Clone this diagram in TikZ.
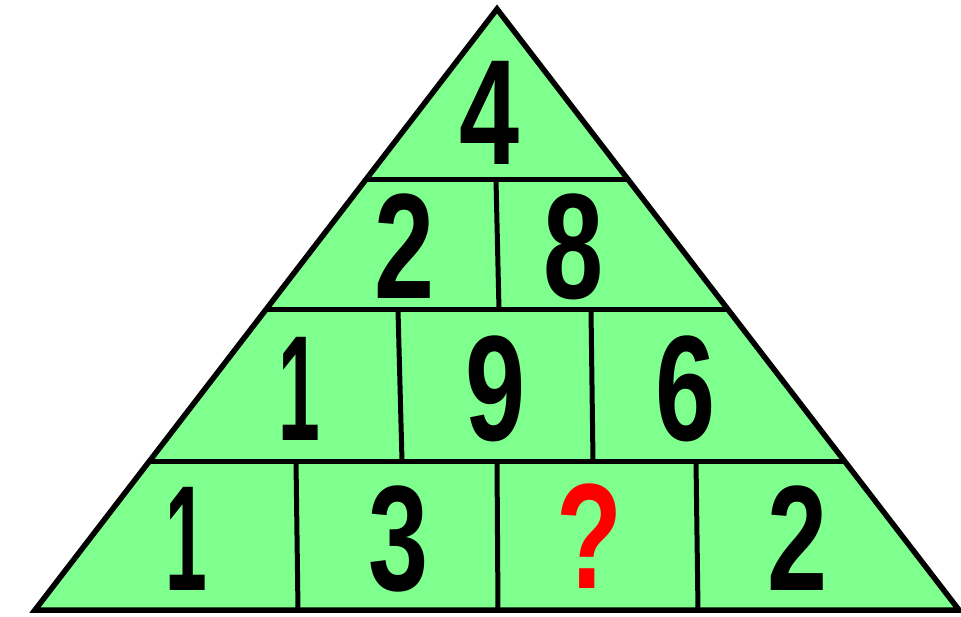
\documentclass[tikz,border=0pt]{standalone}
\usepackage{fontspec}
\setmainfont{Liberation Sans}
\definecolor{pgreen}{RGB}{127,255,142}
\definecolor{qred}{RGB}{255,0,0}
\begin{document}
\begin{tikzpicture}[x=1pt,y=-1pt,
  gridline/.style={line width=5pt,black},
  digit/.style={anchor=base,inner sep=0pt,font=\fontsize{150}{150}\selectfont\bfseries},
]
\useasboundingbox (0,0) rectangle (961,617);
\coordinate (A) at (497,9);
\coordinate (L) at (35,610);
\coordinate (R) at (959,610);
\fill[pgreen] (A) -- (L) -- (R) -- cycle;
% horizontal lines
\draw[gridline] (366,180) -- (628,180);
\draw[gridline] (266,310) -- (728,310);
\draw[gridline] (151,461) -- (843,461);
% vertical dividers
\draw[gridline] (496,180) -- (499,310);
\draw[gridline] (398,310) -- (402,461);
\draw[gridline] (591,310) -- (593,461);
\draw[gridline] (296,461) -- (298,610);
\draw[gridline] (497,461) -- (498,610);
\draw[gridline] (696,461) -- (698,610);
\draw[line width=5.5pt,line join=miter] (A) -- (L) -- (R) -- cycle;
% numbers
\node[digit] (n4) at (490,165) {\scalebox{0.72}[1]{4}};
\node[digit] (n2a) at (405,299) {\scalebox{0.72}[1]{2}};
\node[digit] (n8) at (574,299) {\scalebox{0.72}[1]{8}};
\node[digit] (n1a) at (299,440) {\scalebox{0.5}[1]{1}};
\node[digit] (n9) at (496,440) {\scalebox{0.72}[1]{9}};
\node[digit] (n6) at (686,440) {\scalebox{0.72}[1]{6}};
\node[digit] (n1b) at (186,590) {\scalebox{0.5}[1]{1}};
\node[digit] (n3) at (399,590) {\scalebox{0.72}[1]{3}};
\node[digit,text=qred] (nq) at (589,588) {\scalebox{0.72}[1]{?}};
\node[digit] (n2b) at (798,590) {\scalebox{0.72}[1]{2}};
\end{tikzpicture}
\end{document}
